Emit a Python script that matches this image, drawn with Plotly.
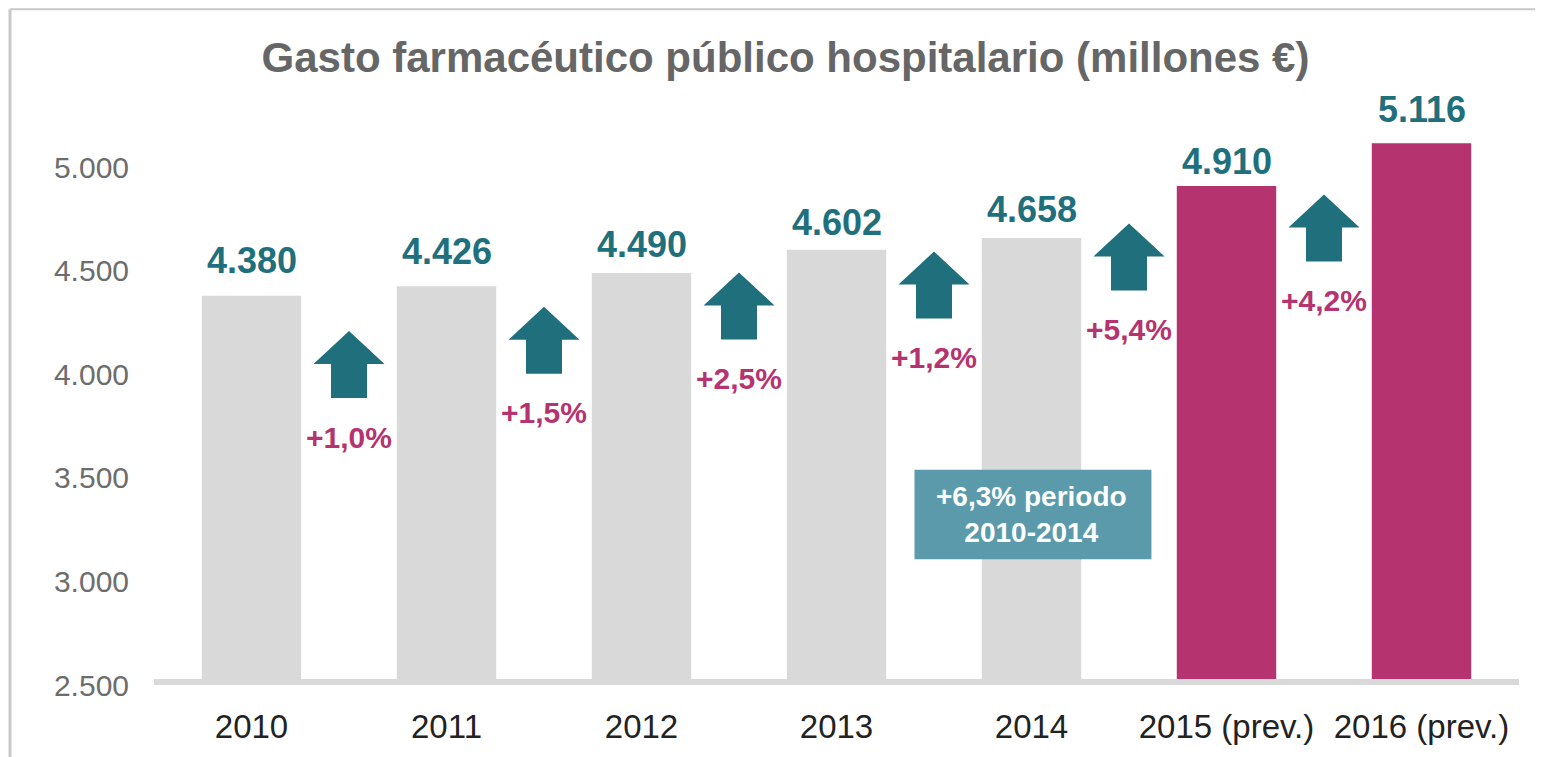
import plotly.graph_objects as go

# ---- data ----
years = ["2010", "2011", "2012", "2013", "2014", "2015 (prev.)", "2016 (prev.)"]
spend = [4380, 4426, 4490, 4602, 4658, 4910, 5116]
is_forecast = [False, False, False, False, False, True, True]
pct_change = [1.0, 1.5, 2.5, 1.2, 5.4, 4.2]
arrow_tip_level = [4209, 4327, 4492, 4593, 4729, 4868]
y_tick_vals = [2500, 3000, 3500, 4000, 4500, 5000]
y_tick_text = ["2.500", "3.000", "3.500", "4.000", "4.500", "5.000"]
period_note = "+6,3% periodo<br>2010-2014"
title_text = "Gasto farmacéutico público hospitalario (millones €)"

# ---- style ----
PAGE_OFFSET = 8  # default page margin of the html body
W, H = 1543 - PAGE_OFFSET, 757 - PAGE_OFFSET
ML, MR, MT, MB = 154 - PAGE_OFFSET, 24, 43 - PAGE_OFFSET, 68
FONT = "Liberation Sans, Arial, Helvetica, sans-serif"
GRAY_BAR = "#d9d9d9"
MAGENTA = "#b5336f"
TEAL = "#1f707c"
BOX = "#5a9aab"
value_label_lift = [35, 35, 28, 27, 29, 24, 34]  # px from bar top to label centre

def fmt_thousands(v):
    return f"{v:,}".replace(",", ".")

def fmt_pct(p):
    return "+" + f"{p:.1f}".replace(".", ",") + "%"

x_idx = list(range(len(years)))
colors = [MAGENTA if f else GRAY_BAR for f in is_forecast]

fig = go.Figure()
fig.add_trace(go.Bar(
    x=x_idx, y=spend, marker=dict(color=colors, line=dict(width=0)),
    hoverinfo="skip", showlegend=False,
))

annotations = []
shapes = []

# value labels above bars
for i, v in enumerate(spend):
    annotations.append(dict(
        x=i, y=v, xref="x", yref="y", text=fmt_thousands(v), showarrow=False,
        yanchor="middle", yshift=value_label_lift[i],
        font=dict(family=FONT, size=36, color=TEAL, weight="bold"),
    ))

# arrows + percentage labels between bars
arrow_path = "M0,0 L35.5,-33 L18,-33 L18,-67 L-18,-67 L-18,-33 L-35.5,-33 Z"
for k, p in enumerate(pct_change):
    xc = k + 0.5
    shapes.append(dict(
        type="path", xref="x", yref="y", xsizemode="pixel", ysizemode="pixel",
        xanchor=xc, yanchor=arrow_tip_level[k], path=arrow_path,
        fillcolor=TEAL, line=dict(width=0), layer="above",
    ))
    annotations.append(dict(
        x=xc, y=arrow_tip_level[k], xref="x", yref="y", text=fmt_pct(p),
        showarrow=False, yanchor="middle", yshift=-106,
        font=dict(family=FONT, size=30, color=MAGENTA, weight="bold"),
    ))

# period note box
shapes.append(dict(type="rect", xref="x", yref="y", x0=3.40, x1=4.615, y0=3107, y1=3539,
                   fillcolor=BOX, line=dict(width=0), layer="above"))
annotations.append(dict(
    x=4.0, y=3323, xref="x", yref="y", text=period_note, showarrow=False,
    yanchor="middle", font=dict(family=FONT, size=28, color="white", weight="bold"),
))

# baseline band
shapes.append(dict(type="rect", xref="paper", yref="y", ysizemode="pixel", yanchor=2500,
                   x0=0, x1=1, y0=-3, y1=6, fillcolor=GRAY_BAR, line=dict(width=0), layer="above"))

# frame (top and left lines)
PW, PH = W - ML - MR, H - MT - MB
def px_x(px):
    return (px - PAGE_OFFSET - ML) / PW
def px_y(py):
    return (H - MB - (py - PAGE_OFFSET)) / PH
shapes.append(dict(type="line", xref="paper", yref="paper", x0=px_x(10), x1=px_x(1543 + 5),
                   y0=px_y(9), y1=px_y(9), line=dict(color="#c9c9c9", width=2)))
shapes.append(dict(type="line", xref="paper", yref="paper", x0=px_x(10), x1=px_x(10),
                   y0=px_y(9), y1=px_y(757 + 5), line=dict(color="#c9c9c9", width=3)))

fig.update_layout(
    width=W, height=H,
    margin=dict(l=ML, r=MR, t=MT, b=MB),
    paper_bgcolor="white", plot_bgcolor="white",
    bargap=0.49,
    title=dict(text=title_text, x=(785.5 - PAGE_OFFSET) / W, xanchor="center",
               y=1 - (57 - PAGE_OFFSET) / H, yanchor="middle",
               xref="container", yref="container",
               font=dict(family=FONT, size=42, color="#666666", weight="bold")),
    xaxis=dict(range=[-0.5, len(years) - 0.5], tickvals=x_idx, ticktext=years,
               showgrid=False, zeroline=False, showline=False, ticks="",
               ticklabelstandoff=19,
               tickfont=dict(family=FONT, size=33, color="#222222")),
    yaxis=dict(range=[2500, 5600], tickvals=y_tick_vals, ticktext=y_tick_text,
               showgrid=False, zeroline=False, showline=False, ticks="",
               ticklabelstandoff=24,
               tickfont=dict(family=FONT, size=30, color="#6d6d6d")),
    annotations=annotations, shapes=shapes,
)

fig.write_html("out.html")
